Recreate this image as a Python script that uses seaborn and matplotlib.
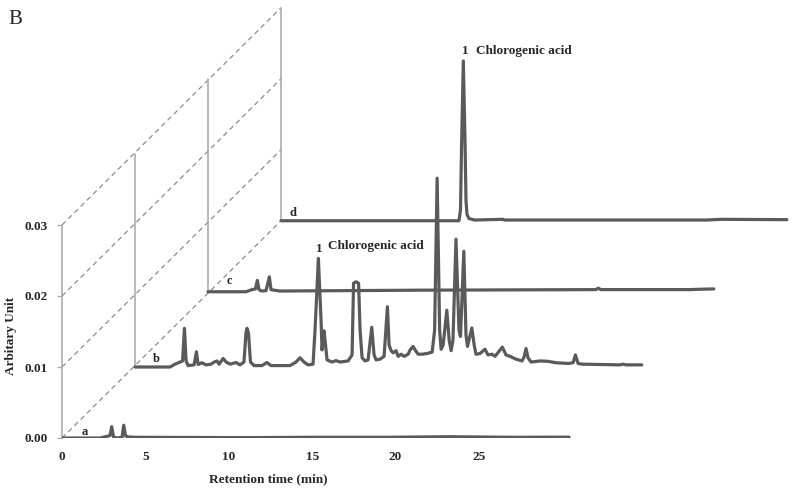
import matplotlib
matplotlib.use("Agg")
import matplotlib.pyplot as plt
import numpy as np
import pandas as pd
import seaborn as sns

sns.set_theme(style="white")
plt.rcParams['font.family'] = ['Liberation Serif', 'DejaVu Serif']

# ---------------- data (local retention time in min, signal in AU) ----------------
trace_names = ["a", "b", "c", "d"]
offset_time = [0.0, 4.38, 8.75, 13.13]      # pseudo-3D shift of each trace
offset_signal = [0.0, 0.0100, 0.0206, 0.0306]

a_time = [0, 2.28, 2.64, 2.88, 2.98, 3.09, 3.30, 3.60, 3.70, 3.81, 3.96, 4.38,
          11.0, 15.0, 19.4, 23.2, 27.0, 30.4]
a_signal = [0, 0, 0.0002, 0.00035, 0.0016, 0.00014, 0.0, 0.0001, 0.0018, 0.0003,
            0.00015, 0.0001, 0.00005, 0.0001, 0.0001, 0.00018, 0.0001, 0.00012]

b_time = [0, 2.10, 2.40, 2.70, 2.85, 2.96, 3.06, 3.18, 3.54, 3.68, 3.78, 4.00, 4.26,
          4.56, 4.74, 4.92, 5.04, 5.28, 5.46, 5.70, 6.06, 6.29, 6.53, 6.65, 6.71,
          6.80, 6.92, 7.13, 7.61, 7.90, 8.15, 9.29, 9.65, 9.89, 10.13, 10.37, 10.67,
          10.79, 10.99, 11.15, 11.21, 11.27, 11.33, 11.42, 11.51, 11.81, 12.05, 12.29,
          12.77, 13.01, 13.10, 13.25, 13.40, 13.49, 13.61, 13.79, 13.97, 14.19, 14.33,
          14.45, 14.69, 14.93, 15.13, 15.23, 15.35, 15.47, 15.65, 15.77, 15.95, 16.13,
          16.37, 16.49, 16.67, 16.79, 16.97, 17.21, 17.51, 17.81, 17.96, 18.11, 18.26,
          18.35, 18.47, 18.69, 18.83, 18.95, 19.06, 19.24, 19.42, 19.51, 19.71, 19.84,
          19.93, 20.19, 20.33, 20.44, 20.68, 20.98, 21.16, 21.40, 21.58, 22.02, 22.24,
          22.48, 22.84, 23.20, 23.32, 23.44, 23.56, 23.74, 24.28, 24.76, 25.24, 25.96,
          26.26, 26.40, 26.56, 26.80, 29.08, 29.26, 29.44, 30.38]
b_signal = [0, 0, 0.0004, 0.0007, 0.00085, 0.00545, 0.00085, 0.0002, 0.0003, 0.00215,
            0.00035, 0.0006, 0.0003, 0.0004, 0.0007, 0.00085, 0.0004, 0.0012, 0.0007,
            0.0004, 0.00063, 0.0003, 0.0007, 0.0048, 0.00545, 0.0048, 0.0007, 0.0002,
            0.0002, 0.00063, 0.0002, 0.0002, 0.0007, 0.0013, 0.0007, 0.0003, 0.0004,
            0.0052, 0.0153, 0.0066, 0.0024, 0.0038, 0.0051, 0.0031, 0.0010, 0.0007,
            0.0009, 0.0007, 0.00085, 0.0017, 0.0118, 0.0120, 0.0118, 0.0052, 0.0013,
            0.00085, 0.0010, 0.0056, 0.0017, 0.0010, 0.0011, 0.0015, 0.0085, 0.0031,
            0.0023, 0.0020, 0.0023, 0.0015, 0.0018, 0.0015, 0.0018, 0.0024, 0.0029,
            0.0024, 0.0018, 0.0018, 0.0019, 0.0021, 0.0052, 0.0266, 0.0052, 0.0025,
            0.0031, 0.0080, 0.0038, 0.0023, 0.0038, 0.0180, 0.0052, 0.0043, 0.0163,
            0.0045, 0.0029, 0.0055, 0.0031, 0.0018, 0.0019, 0.0025, 0.0017, 0.0018,
            0.0015, 0.0028, 0.0017, 0.0015, 0.0011, 0.00085, 0.0014, 0.0026, 0.0013,
            0.0007, 0.00085, 0.0008, 0.0006, 0.0005, 0.0006, 0.0017, 0.0005, 0.0004,
            0.0003, 0.0004, 0.0003, 0.0003]

c_time = [0, 2.28, 2.64, 2.85, 2.96, 3.06, 3.21, 3.48, 3.68, 3.78, 4.02, 4.32,
          7.91, 12.71, 23.26, 23.40, 23.56, 28.90, 29.50, 30.33]
c_signal = [0, 0, 0.0003, 0.0004, 0.0016, 0.0003, 0.0001, 0.00015, 0.0021, 0.0003,
            0.0002, 0.0001, 0.00015, 0.00022, 0.0003, 0.0005, 0.0003, 0.0003,
            0.00035, 0.0004]

d_time = [0, 10.67, 10.76, 10.82, 10.93, 11.03, 11.09, 11.15, 11.27, 11.63, 13.31,
          13.40, 25.5, 26.4, 30.33]
d_signal = [0, 0, 0.0015, 0.0099, 0.0225, 0.0113, 0.0029, 0.0009, 0.0003, 0.0001,
            0.0002, 0.0001, 0.0001, 0.0002, 0.00015]

trace_time = [a_time, b_time, c_time, d_time]
trace_signal = [a_signal, b_signal, c_signal, d_signal]

x_ticks = [0, 5, 10, 15, 20, 25]
y_ticks = [0.00, 0.01, 0.02, 0.03]
y_ticklabels = ["0.00", "0.01", "0.02", "0.03"]
frame_height = 0.03
peak_label = "Chlorogenic acid"

# ---------------- build long table ----------------
rows = []
for name, t, s, ox, oy in zip(trace_names, trace_time, trace_signal, offset_time, offset_signal):
    for ti, si in zip(t, s):
        rows.append({"trace": name, "x": ti + ox, "y": si + oy})
df = pd.DataFrame(rows)

# ---------------- figure ----------------
W, H = 793, 491
fig = plt.figure(figsize=(W / 100, H / 100), dpi=100)
ax = fig.add_axes([62 / W, (H - 438) / H, (W - 62) / W, 438 / H])

line_col = "#5a5a5a"
frame_col = "#a6a6a6"
dash_col = "#8c8c8c"

# dashed perspective lines
for yt in y_ticks:
    ax.plot([0, offset_time[-1]], [yt, yt + offset_signal[-1]], ls=(0, (4, 3)),
            color=dash_col, lw=0.9, zorder=1)
# vertical frame lines of the back traces
for ox, oy in zip(offset_time[1:], offset_signal[1:]):
    ax.plot([ox, ox], [oy, oy + frame_height], color=frame_col, lw=1.1, zorder=1)

# traces, back to front
for name in ["d", "c", "b", "a"]:
    sub = df[df["trace"] == name]
    sns.lineplot(data=sub, x="x", y="y", ax=ax, color=line_col, lw=2.3,
                 estimator=None, sort=False, zorder=3)

ax.set_xlim(0, (W - 62) / 16.68)
ax.set_ylim(0, 438 / 7100)

ax.set_xticks(x_ticks)
ax.set_xticklabels([str(v) for v in x_ticks])
ax.set_yticks(y_ticks)
ax.set_yticklabels(y_ticklabels)
for lab in ax.get_xticklabels() + ax.get_yticklabels():
    lab.set_fontweight("bold")
    lab.set_fontsize(9.5)
ax.tick_params(axis="x", length=0, pad=9)
ax.tick_params(axis="y", left=True, length=3.5, width=0.9, color=frame_col, pad=7)
ax.set_xlabel("")
ax.set_ylabel("")

for side in ["top", "right", "bottom"]:
    ax.spines[side].set_visible(False)
ax.spines["left"].set_bounds(0, frame_height)
ax.spines["left"].set_color(frame_col)
ax.spines["left"].set_linewidth(1.1)
ax.grid(False)

# trace labels
tl_kw = dict(fontsize=9, fontweight="bold", va="center", ha="center", zorder=5)
ax.text(1.38, 0.0008, "a", **tl_kw)
ax.text(5.64, 0.0111, "b", **tl_kw)
ax.text(10.01, 0.0221, "c", **tl_kw)
ax.text(13.85, 0.0317, "d", **tl_kw)

# peak labels
pk_kw = dict(fontsize=9.5, fontweight="bold", va="center", zorder=5)
ax.text(15.41, 0.0266, "1", ha="center", **pk_kw)
ax.text(15.95, 0.0270, peak_label, ha="left", **pk_kw)
ax.text(24.16, 0.0545, "1", ha="center", **pk_kw)
ax.text(24.82, 0.0545, peak_label, ha="left", **pk_kw)

# axis titles and panel letter
fig.text(268 / W, 1 - 479 / H, "Retention time (min)", ha="center", va="center",
         fontsize=9.5, fontweight="bold")
fig.text(11 / W, 1 - 336 / H, "Arbitary Unit", ha="center", va="center",
         rotation=90, fontsize=9.5, fontweight="bold")
fig.text(15 / W, 1 - 20 / H, "B", ha="center", va="center", fontsize=15)

fig.savefig("out.png", dpi=100)
